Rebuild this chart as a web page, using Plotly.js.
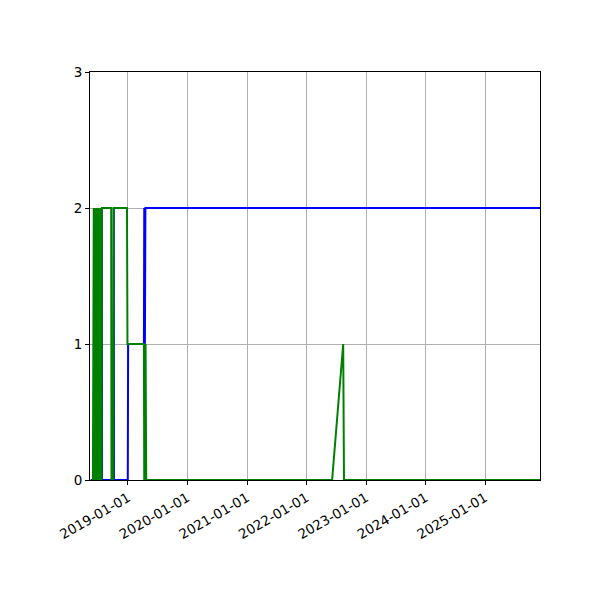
<!DOCTYPE html>
<html>
<head>
<meta charset="utf-8">
<script src="https://cdn.plot.ly/plotly-3.0.1.min.js"></script>
<style>
  html, body { margin: 0; padding: 0; background: #fff; }
  #chart { width: 600px; height: 600px; }
</style>
</head>
<body>
<div id="chart"></div>
<script>
// blue series
var blueDates = ['2018-05-17', '2018-06-10', '2018-06-12', '2018-06-14', '2018-07-24', '2018-07-25', '2018-07-26',
    '2018-10-05', '2018-10-06', '2018-10-07', '2018-12-31', '2019-01-02', '2019-04-09', '2019-04-11',
    '2019-04-15', '2019-04-18', '2025-12-04'];
var blueVals = [0, 0, 2, 0, 0, 2, 0,
    0, 2, 0, 0, 1, 1, 2,
    1, 2, 2];

// green series
var greenDates = ['2018-05-31', '2018-06-01', '2018-06-03', '2018-06-05', '2018-06-07', '2018-06-09', '2018-06-11',
    '2018-06-15', '2018-06-17', '2018-06-19', '2018-06-21', '2018-06-23', '2018-06-25', '2018-06-27',
    '2018-06-29', '2018-07-01', '2018-07-03', '2018-07-05', '2018-07-07', '2018-07-09', '2018-07-11',
    '2018-07-13', '2018-07-15', '2018-07-17', '2018-07-19', '2018-07-21', '2018-07-23', '2018-07-25',
    '2018-09-20', '2018-09-22', '2018-10-02', '2018-10-05', '2018-12-26', '2018-12-29',
    '2019-04-09', '2019-04-11', '2019-04-19', '2019-04-23',
    '2022-06-07', '2022-08-14', '2022-08-19', '2025-12-04'];
var greenVals = [0, 2, 0, 2, 0, 2, 0,
    2, 0, 2, 0, 2, 0, 2,
    0, 2, 0, 2, 0, 2, 0,
    2, 0, 2, 0, 2, 0, 2,
    2, 0, 0, 2, 2, 1,
    1, 0, 1, 0,
    0, 1, 0, 0];

var xTicks = ['2019-01-01', '2020-01-01', '2021-01-01', '2022-01-01', '2023-01-01', '2024-01-01', '2025-01-01'];
var yTicks = [0, 1, 2, 3];

var traceBlue = {
    x: blueDates,
    y: blueVals,
    mode: 'lines',
    type: 'scatter',
    line: {color: '#0000ff', width: 2}
};
var traceGreen = {
    x: greenDates,
    y: greenVals,
    mode: 'lines',
    type: 'scatter',
    line: {color: '#008000', width: 2}
};

var layout = {
    width: 600,
    height: 600,
    showlegend: false,
    paper_bgcolor: '#ffffff',
    plot_bgcolor: '#ffffff',
    margin: {l: 90, r: 60, t: 72, b: 120, pad: 0},
    font: {family: 'DejaVu Sans', size: 13.5, color: '#000000'},
    xaxis: {
        type: 'date',
        range: ['2018-05-13', '2025-12-04'],
        tickvals: xTicks,
        ticktext: xTicks,
        tickangle: -30,
        ticks: 'outside',
        ticklen: 4,
        tickwidth: 1,
        tickcolor: '#000',
        showgrid: true,
        gridcolor: '#b0b0b0',
        gridwidth: 1,
        zeroline: false,
        showline: true,
        linecolor: '#000',
        linewidth: 1,
        mirror: true
    },
    yaxis: {
        range: [0, 3],
        tickvals: yTicks,
        ticks: 'outside',
        ticklen: 4,
        tickwidth: 1,
        tickcolor: '#000',
        showgrid: true,
        gridcolor: '#b0b0b0',
        gridwidth: 1,
        zeroline: false,
        showline: true,
        linecolor: '#000',
        linewidth: 1,
        mirror: true
    }
};

Plotly.newPlot('chart', [traceBlue, traceGreen], layout, {displayModeBar: false, staticPlot: true});
</script>
</body>
</html>
